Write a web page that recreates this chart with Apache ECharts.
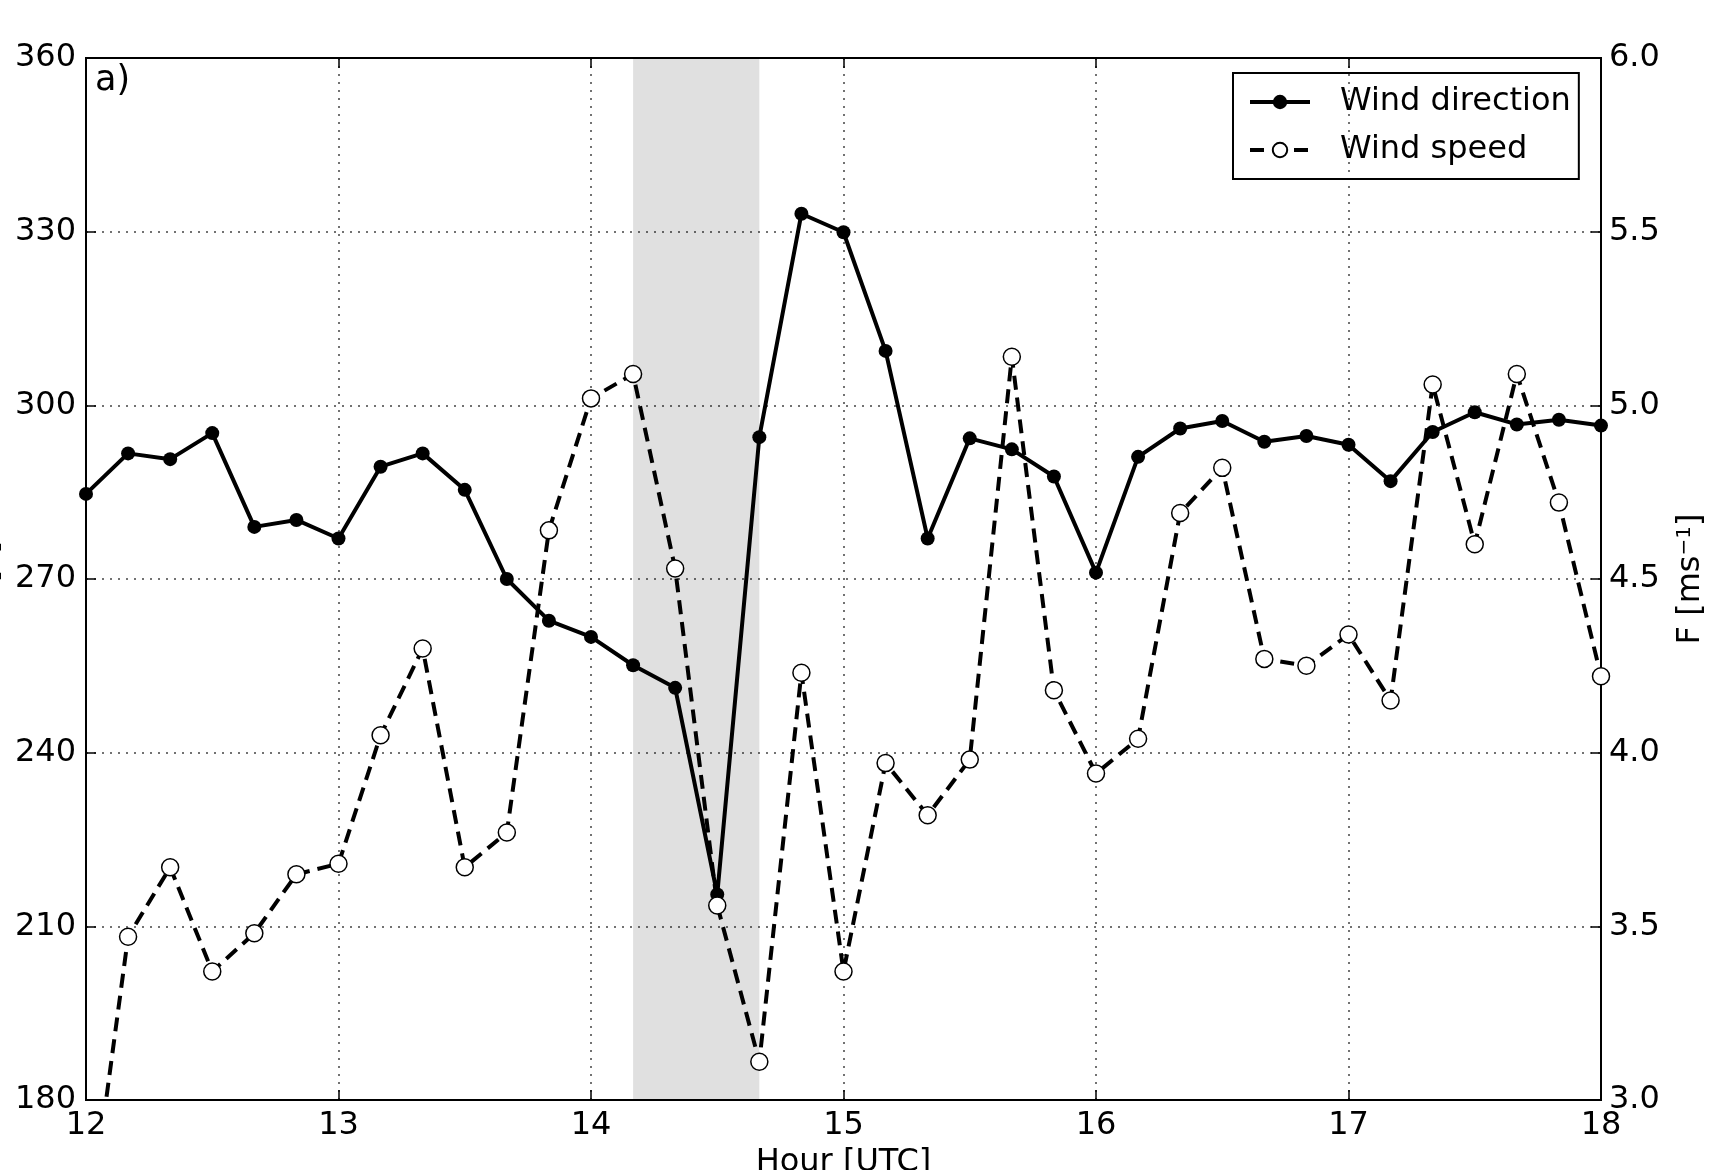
<!DOCTYPE html>
<html>
<head>
<meta charset="utf-8">
<title>Wind direction and speed</title>
<script src="https://cdn.jsdelivr.net/npm/echarts@6/dist/echarts.min.js"></script>
<style>
  html, body { margin: 0; padding: 0; background: #fff; }
  #chart { width: 1711px; height: 1170px; }
</style>
</head>
<body>
<div id="chart"></div>
<script>
// 10 minute values, 12-18 UTC
var times = [
  '12:00', '12:10', '12:20', '12:30', '12:40', '12:50',
  '13:00', '13:10', '13:20', '13:30', '13:40', '13:50',
  '14:00', '14:10', '14:20', '14:30', '14:40', '14:50',
  '15:00', '15:10', '15:20', '15:30', '15:40', '15:50',
  '16:00', '16:10', '16:20', '16:30', '16:40', '16:50',
  '17:00', '17:10', '17:20', '17:30', '17:40', '17:50',
  '18:00'
];
var windDirection = [
  284.7, 291.7, 290.7, 295.2, 279.0, 280.2,
  277.0, 289.4, 291.7, 285.4, 270.0, 262.8,
  260.0, 255.1, 251.2, 215.5, 294.5, 333.1,
  329.9, 309.4, 277.0, 294.3, 292.4, 287.7,
  271.1, 291.1, 296.0, 297.3, 293.7, 294.7,
  293.2, 286.9, 295.4, 298.8, 296.7, 297.5,
  296.5
];
var windSpeed = [
  2.57, 3.47, 3.67, 3.37, 3.48, 3.65,
  3.68, 4.05, 4.30, 3.67, 3.77, 4.64,
  5.02, 5.09, 4.53, 3.56, 3.11, 4.23,
  3.37, 3.97, 3.82, 3.98, 5.14, 4.18,
  3.94, 4.04, 4.69, 4.82, 4.27, 4.25,
  4.34, 4.15, 5.06, 4.60, 5.09, 4.72,
  4.22
];
// grey band
var shadeFrom = '14:10';
var shadeTo = '14:40';

function toHour(t) {
  var p = t.split(':');
  return Number(p[0]) + Number(p[1]) / 60;
}

var font = 'DejaVu Sans';
var frameLine = { show: true, lineStyle: { color: '#000', width: 2 } };
var tick = { show: true, inside: true, length: 10, lineStyle: { color: '#000', width: 1.5 } };
var dotted = { show: true, lineStyle: { color: '#444', width: 1.5, type: [2, 6] } };

var myChart = echarts.init(document.getElementById('chart'));
myChart.setOption({
  animation: false,
  backgroundColor: '#fff',
  textStyle: { fontFamily: font },
  title: {
    text: 'a)', left: 95, top: 63, padding: 0,
    textStyle: { fontSize: 35, fontWeight: 'normal', color: '#000', fontFamily: font }
  },
  grid: {
    left: 86, right: 110, top: 58, bottom: 70,
    outerBoundsMode: 'none', containLabel: false,
    show: true, borderColor: '#000', borderWidth: 2, backgroundColor: 'transparent'
  },
  legend: {
    orient: 'vertical', left: 1233, top: 73,
    padding: [13, 8, 13, 15], itemGap: 16, itemWidth: 60, itemHeight: 18,
    borderColor: '#000', borderWidth: 2, borderRadius: 0,
    selectedMode: false,
    lineStyle: { width: 4 },
    textStyle: { fontSize: 32, color: '#000', fontFamily: font, padding: [0, 0, 0, 25] },
    data: ['Wind direction', 'Wind speed']
  },
  xAxis: [{
    type: 'value', min: 12, max: 18, interval: 1, position: 'bottom',
    name: 'Hour [UTC]', nameLocation: 'middle', nameGap: 44,
    nameTextStyle: { fontSize: 32, color: '#000', fontFamily: font },
    axisLine: frameLine, axisTick: tick,
    axisLabel: { fontSize: 32, color: '#000', margin: 10, fontFamily: font },
    splitLine: dotted
  }, {
    type: 'value', min: 12, max: 18, interval: 1, position: 'top',
    axisLine: frameLine, axisTick: tick,
    axisLabel: { show: false }, splitLine: { show: false }
  }],
  yAxis: [{
    type: 'value', min: 180, max: 360, interval: 30, position: 'left',
    name: 'D [°]', nameLocation: 'middle', nameGap: 76,
    nameTextStyle: { fontSize: 32, color: '#000', fontFamily: font },
    axisLine: frameLine, axisTick: tick,
    axisLabel: { fontSize: 32, color: '#000', margin: 10, fontFamily: font },
    splitLine: dotted
  }, {
    type: 'value', min: 3, max: 6, interval: 0.5, position: 'right',
    name: 'F [ms{sup|−1}]', nameLocation: 'middle', nameGap: 74,
    nameTextStyle: {
      fontSize: 32, color: '#000', fontFamily: font,
      rich: { sup: { fontSize: 20, verticalAlign: 'top', color: '#000', fontFamily: font } }
    },
    axisLine: frameLine, axisTick: tick,
    axisLabel: {
      fontSize: 32, color: '#000', margin: 8, fontFamily: font,
      formatter: function (v) { return v.toFixed(1); }
    },
    splitLine: { show: false }
  }],
  series: [{
    name: 'Wind direction',
    type: 'line', xAxisIndex: 0, yAxisIndex: 0,
    data: times.map(function (t, i) { return [toHour(t), windDirection[i]]; }),
    symbol: 'circle', symbolSize: 14,
    itemStyle: { color: '#000' },
    lineStyle: { color: '#000', width: 4 },
    emphasis: { disabled: true },
    markArea: {
      silent: true,
      itemStyle: { color: 'rgba(0,0,0,0.12)' },
      data: [[{ xAxis: toHour(shadeFrom) }, { xAxis: toHour(shadeTo) }]]
    },
    z: 3
  }, {
    name: 'Wind speed',
    type: 'line', xAxisIndex: 0, yAxisIndex: 1,
    data: times.map(function (t, i) { return [toHour(t), windSpeed[i]]; }),
    symbol: 'circle', symbolSize: 17,
    itemStyle: { color: '#fff', borderColor: '#000', borderWidth: 1.5 },
    lineStyle: { color: '#000', width: 4, type: [14, 8] },
    emphasis: { disabled: true },
    z: 4
  }]
});
</script>
</body>
</html>
